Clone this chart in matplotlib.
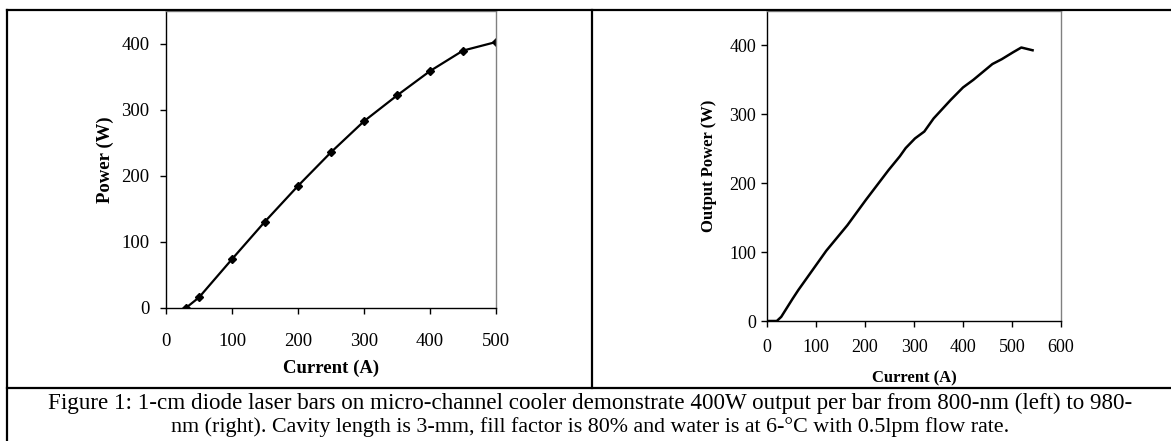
import matplotlib
matplotlib.use("Agg")
import matplotlib.pyplot as plt
from matplotlib.lines import Line2D

plt.rcParams['font.family'] = ['Liberation Serif', 'DejaVu Serif']

# Left panel data (800 nm)
left_current = [30, 50, 100, 150, 200, 250, 300, 350, 400, 450, 500]
left_power = [0, 16, 74, 131, 185, 236, 283, 322, 359, 390, 403]
left_xticks = [0, 100, 200, 300, 400, 500]
left_yticks = [0, 100, 200, 300, 400]

# Right panel data (980 nm)
right_current = [0, 20, 29, 52, 64, 98, 121, 164, 202, 248, 271, 283, 302, 321,
                 340, 375, 400, 421, 460, 479, 502, 519, 542]
right_power = [0, 0, 6, 32, 45, 79, 102, 139, 176, 219, 239, 251, 265, 275,
               294, 321, 339, 350, 373, 380, 390, 397, 393]
right_xticks = [0, 100, 200, 300, 400, 500, 600]
right_yticks = [0, 100, 200, 300, 400]

caption_lines = [
    "Figure 1: 1-cm diode laser bars on micro-channel cooler demonstrate 400W output per bar from 800-nm (left) to 980-",
    "nm (right). Cavity length is 3-mm, fill factor is 80% and water is at 6-\u00b0C with 0.5lpm flow rate.",
]

W, H = 1171, 441
fig = plt.figure(figsize=(W / 100, H / 100), dpi=100)


def fx(px):
    return px / W


def fy(py):
    return 1 - py / H


def style_axes(ax):
    ax.spines['left'].set_color('black')
    ax.spines['bottom'].set_color('black')
    ax.spines['top'].set_color('#808080')
    ax.spines['right'].set_color('#808080')
    for s in ax.spines.values():
        s.set_linewidth(1.0)
    ax.tick_params(direction='out', length=4, width=1, colors='black')


# Left axes
axL = fig.add_axes([fx(166), fy(308), fx(496) - fx(166), fy(11) - fy(308)])
axL.plot(left_current, left_power, color='black', lw=1.6, marker='D', ms=4.5)
axL.set_xlim(0, 500)
axL.set_ylim(0, 450)
axL.set_xticks(left_xticks)
axL.set_yticks(left_yticks)
style_axes(axL)
axL.tick_params(labelsize=13.5)
axL.tick_params(axis='y', pad=8)
axL.tick_params(axis='x', pad=14)
axL.set_xlabel("Current (A)", fontsize=13.5, fontweight='bold', labelpad=7)
axL.set_ylabel("Power (W)", fontsize=13.5, fontweight='bold', labelpad=5)

# Right axes
axR = fig.add_axes([fx(767), fy(321), fx(1061) - fx(767), fy(11) - fy(321)])
axR.plot(right_current, right_power, color='black', lw=1.8)
axR.set_xlim(0, 600)
axR.set_ylim(0, 450)
axR.set_xticks(right_xticks)
axR.set_yticks(right_yticks)
style_axes(axR)
axR.tick_params(labelsize=13)
axR.tick_params(axis='y', pad=4)
axR.tick_params(axis='x', pad=9)
axR.set_xlabel("Current (A)", fontsize=12, fontweight='bold', labelpad=10)
axR.set_ylabel("Output Power (W)", fontsize=12, fontweight='bold', labelpad=9)

# Frame lines
lw = 1.6
fig.add_artist(Line2D([fx(7), 1], [fy(10), fy(10)], color='black', lw=lw, transform=fig.transFigure))
fig.add_artist(Line2D([fx(7), fx(7)], [fy(10), 0], color='black', lw=lw, transform=fig.transFigure))
fig.add_artist(Line2D([fx(7), 1], [fy(388), fy(388)], color='black', lw=lw, transform=fig.transFigure))
fig.add_artist(Line2D([fx(592), fx(592)], [fy(10), fy(388)], color='black', lw=lw, transform=fig.transFigure))

# Caption
fig.text(fx(590), fy(409), caption_lines[0], ha='center', va='baseline', fontsize=16.6)
fig.text(fx(590), fy(432), caption_lines[1], ha='center', va='baseline', fontsize=15.8)

fig.savefig("out.png", dpi=100)
